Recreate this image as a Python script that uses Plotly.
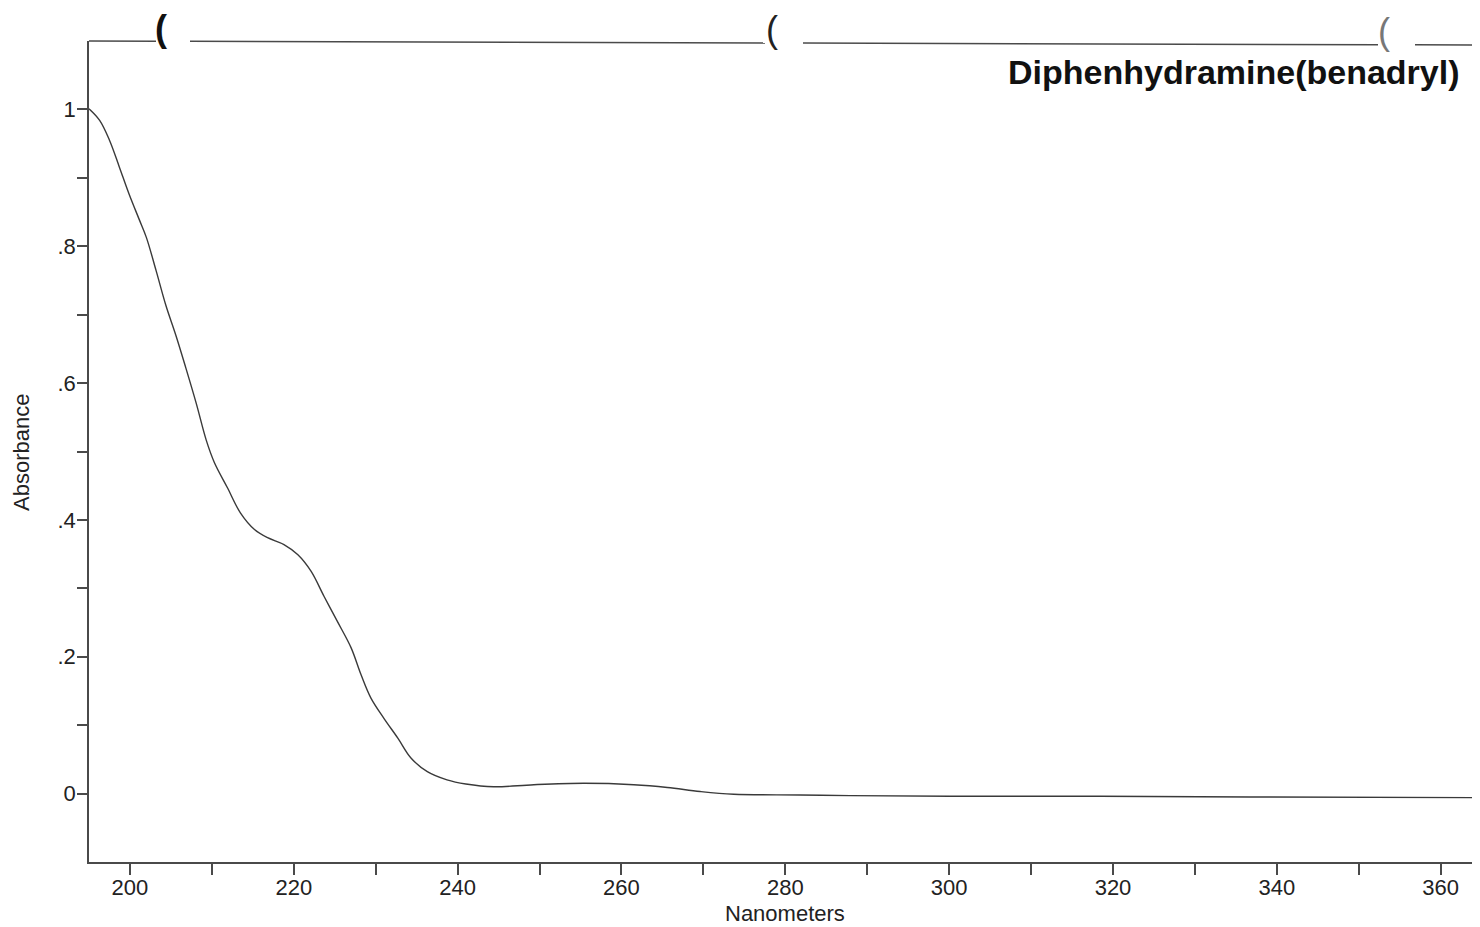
import plotly.graph_objects as go

# Spectrum (nm, absorbance)
wavelength_nm = [195.0, 196.3, 197.5, 198.7, 199.9, 201.1, 202.0, 203.2, 204.4, 205.6,
                 206.8, 208.1, 209.3, 210.3, 211.9, 213.5, 215.2, 216.8, 218.8, 220.5,
                 222.1, 223.7, 225.3, 227.0, 228.2, 229.4, 231.0, 232.7, 234.3, 236.3,
                 238.7, 241.0, 244.4, 249.3, 255.4, 261.5, 265.6, 269.6, 273.7, 281.8,
                 287.9, 300.1, 318.4, 336.7, 364.8]
absorbance = [1.001, 0.984, 0.955, 0.916, 0.876, 0.840, 0.813, 0.764, 0.713, 0.670,
              0.623, 0.570, 0.517, 0.484, 0.447, 0.410, 0.386, 0.374, 0.364, 0.349,
              0.325, 0.288, 0.252, 0.213, 0.174, 0.140, 0.110, 0.081, 0.052, 0.032,
              0.020, 0.014, 0.010, 0.013, 0.015, 0.013, 0.009, 0.003, -0.001, -0.002,
              -0.003, -0.004, -0.004, -0.005, -0.006]

x_major_ticks = [200, 220, 240, 260, 280, 300, 320, 340, 360]
x_major_labels = ["200", "220", "240", "260", "280", "300", "320", "340", "360"]
x_minor_ticks = [210, 230, 250, 270, 290, 310, 330, 350]
y_major_ticks = [0, 0.2, 0.4, 0.6, 0.8, 1.0]
y_major_labels = ["0", ".2", ".4", ".6", ".8", "1"]
y_minor_ticks = [0.1, 0.3, 0.5, 0.7, 0.9]

title_text = "Diphenhydramine(benadryl)"
x_title = "Nanometers"
y_title = "Absorbance"

axis_color = "#4a4a4a"
font_family = "Liberation Sans, Arial, sans-serif"

fig = go.Figure()
fig.add_trace(go.Scatter(
    x=wavelength_nm, y=absorbance, mode="lines",
    line=dict(color="#3a3a3a", width=1.4, shape="spline", smoothing=1.0),
    showlegend=False, hoverinfo="x+y"))

# page body has an 8px margin, so the figure is shrunk by 8px and margins offset
fig.update_layout(
    width=1472, height=919,
    margin=dict(l=81, r=0, t=33, b=65),
    paper_bgcolor="white", plot_bgcolor="white",
    font=dict(family=font_family, color="#222", size=22),
    showlegend=False,
)

fig.update_xaxes(
    range=[195, 364.8], showgrid=False, zeroline=False,
    showline=True, linecolor=axis_color, linewidth=1.5, mirror=False,
    tickmode="array", tickvals=x_major_ticks, ticktext=x_major_labels,
    ticks="outside", ticklen=11, tickwidth=1.5, tickcolor=axis_color,
    tickfont=dict(size=22, color="#222"), ticklabelstandoff=-6,
    minor=dict(tickmode="array", tickvals=x_minor_ticks, ticks="outside",
               ticklen=11, tickwidth=1.5, tickcolor=axis_color, showgrid=False),
)
fig.update_yaxes(
    range=[-0.1, 1.1], showgrid=False, zeroline=False,
    showline=True, linecolor=axis_color, linewidth=1.5, mirror=False,
    tickmode="array", tickvals=y_major_ticks, ticktext=y_major_labels,
    ticks="outside", ticklen=10, tickwidth=1.5, tickcolor=axis_color,
    tickfont=dict(size=22, color="#222"), ticklabelstandoff=-3,
    minor=dict(tickmode="array", tickvals=y_minor_ticks, ticks="outside",
               ticklen=10, tickwidth=1.5, tickcolor=axis_color, showgrid=False),
)

# Axis titles
fig.add_annotation(text=x_title, xref="paper", yref="paper", x=0.5004, y=-0.0633,
                   showarrow=False, xanchor="center", yanchor="middle",
                   font=dict(size=22, color="#222", family=font_family))
fig.add_annotation(text=y_title, xref="paper", yref="paper", x=-0.0482, y=0.4994,
                   showarrow=False, xanchor="center", yanchor="middle", textangle=-90,
                   font=dict(size=22, color="#222", family=font_family))

# Chart title
fig.add_annotation(text="<b>" + title_text + "</b>", xref="paper", yref="paper",
                   x=0.987, y=0.962, showarrow=False, xanchor="right", yanchor="middle",
                   font=dict(size=34, color="#111", family=font_family))

# Top border of the scanned frame (broken by binder holes)
plot_w, plot_h = 1391.0, 821.0
segments_px = [(89, 156), (190, 765), (803, 1378), (1415, 1480)]
def py_to_paper(px_x):
    ypx = 41 + 4.0 * (px_x - 89) / 1391.0
    return (862 - ypx) / plot_h
for a, b in segments_px:
    fig.add_shape(type="line", xref="paper", yref="paper",
                  x0=(a - 89) / plot_w, x1=(b - 89) / plot_w,
                  y0=py_to_paper(a), y1=py_to_paper(b),
                  line=dict(color=axis_color, width=1.5))

# Binder-hole marks
holes = [(161, 28, "#111", 36, True), (772, 29, "#222", 36, False), (1384, 32, "#777", 36, False)]
for hx, hy, col, sz, bold in holes:
    fig.add_annotation(text=("<b>(</b>" if bold else "("), xref="paper", yref="paper",
                       x=(hx - 89) / plot_w, y=(862 - hy) / plot_h, showarrow=False,
                       xanchor="center", yanchor="middle",
                       font=dict(size=sz, color=col, family=font_family))

fig.write_html("out.html")
